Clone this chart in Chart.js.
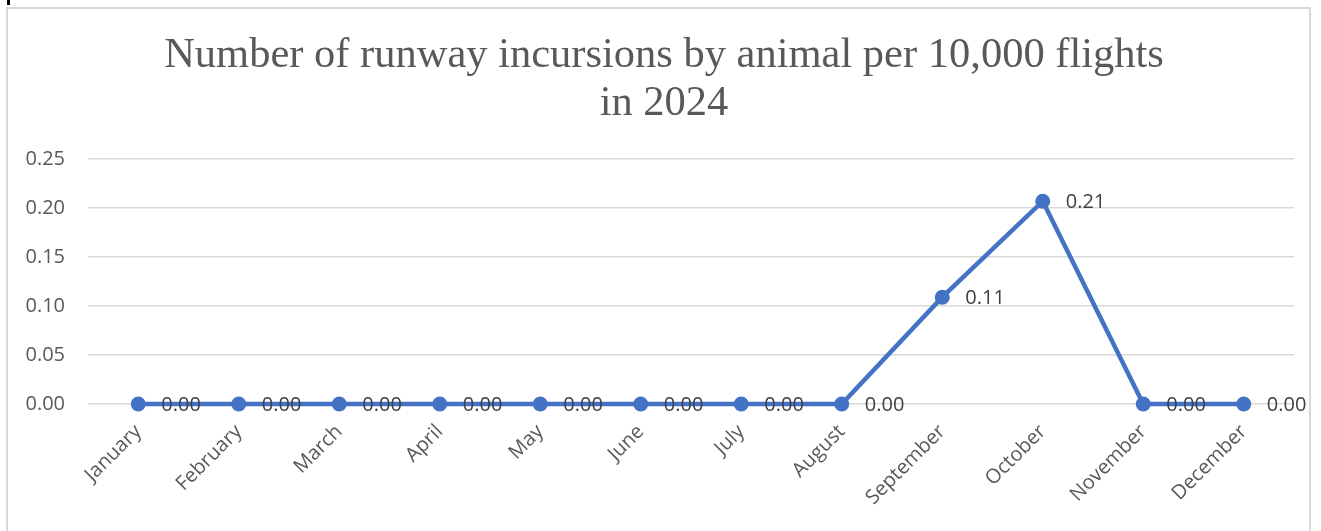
<!DOCTYPE html>
<html>
<head>
<meta charset="utf-8">
<script src="https://cdn.jsdelivr.net/npm/chart.js@4"></script>
<style>
    html, body { margin: 0; padding: 0; background: #fff; overflow: hidden; }
    #wrap { position: relative; width: 1321px; height: 531px; }
    #grafico { position: absolute; left: 0; top: 0; }
    #marco {
        position: absolute; left: 6px; top: 7px; width: 1305px; height: 540px;
        border: 2px solid #d9d9d9; pointer-events: none; box-sizing: border-box;
    }
    #marca { position: absolute; left: 7px; top: 0; width: 3px; height: 5px; background: #000; }
</style>
</head>
<body>
<div id="wrap">
    <canvas id="grafico" width="1321" height="531"></canvas>
    <div id="marco"></div>
    <div id="marca"></div>
</div>
<script>
// Datos del gráfico
const meses = ["January", "February", "March", "April", "May", "June",
    "July", "August", "September", "October", "November", "December"];
const incursiones = [0, 0, 0, 0, 0, 0, 0, 0, 0.109, 0.207, 0, 0];
const ticksY = [0, 0.05, 0.10, 0.15, 0.20, 0.25];

const azul = "#4472C4";
const fuente = "'Open Sans', 'Noto Sans', sans-serif";

// Etiquetas de valor a la derecha de cada punto
const etiquetasValor = {
    id: "etiquetasValor",
    afterDatasetsDraw(chart) {
        const { ctx } = chart;
        const meta = chart.getDatasetMeta(0);
        ctx.save();
        ctx.font = "20px " + fuente;
        ctx.fillStyle = "#404040";
        ctx.textAlign = "left";
        ctx.textBaseline = "middle";
        meta.data.forEach((punto, i) => {
            ctx.fillText(incursiones[i].toFixed(2), punto.x + 23, punto.y + 1);
        });
        ctx.restore();
    }
};

// Centra el título sobre el recuadro del gráfico
const centrarTitulo = {
    id: "centrarTitulo",
    afterLayout(chart) {
        if (chart.titleBlock) chart.titleBlock.left = 34;
    }
};

const ctx = document.getElementById("grafico").getContext("2d");
new Chart(ctx, {
    type: "line",
    data: {
        labels: meses,
        datasets: [{
            data: incursiones,
            borderColor: azul,
            backgroundColor: azul,
            borderWidth: 4.5,
            pointRadius: 7.5,
            pointHoverRadius: 7.5,
            pointBorderWidth: 0,
            tension: 0,
            clip: false
        }]
    },
    options: {
        responsive: false,
        animation: false,
        layout: { padding: { left: 0, right: 27, top: 0, bottom: 0 } },
        plugins: {
            legend: { display: false },
            tooltip: { enabled: false },
            title: {
                display: true,
                text: ["Number of runway incursions by animal per 10,000 flights", "in 2024"],
                color: "#595959",
                font: { family: "'Liberation Serif', 'Times New Roman', serif", size: 42.5, weight: "normal", lineHeight: 1.13 },
                padding: { top: 32, bottom: 31 }
            }
        },
        scales: {
            x: {
                offset: true,
                grid: { display: false, drawTicks: false },
                border: { display: false },
                ticks: {
                    color: "#595959",
                    font: { family: fuente, size: 20 },
                    minRotation: 45,
                    maxRotation: 45,
                    autoSkip: false,
                    padding: 16
                },
                afterFit(scale) { scale.height = 127; }
            },
            y: {
                min: 0,
                max: 0.25,
                afterBuildTicks(scale) { scale.ticks = ticksY.map(v => ({ value: v })); },
                grid: { color: "#d9d9d9", lineWidth: 1.5, drawTicks: false },
                border: { display: false },
                ticks: {
                    color: "#595959",
                    font: { family: fuente, size: 20 },
                    padding: 23,
                    callback: v => v.toFixed(2)
                },
                afterFit(scale) { scale.width = 88; }
            }
        }
    },
    plugins: [etiquetasValor, centrarTitulo]
});
</script>
</body>
</html>
